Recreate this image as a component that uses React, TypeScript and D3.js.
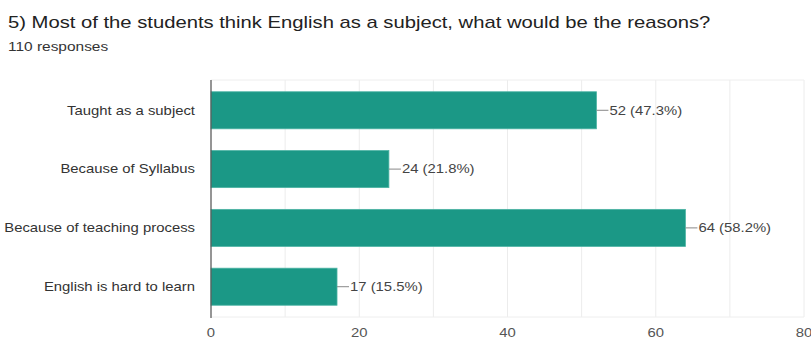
import React from "react";
import * as d3 from "d3";

const categories = [
  "Taught as a subject",
  "Because of Syllabus",
  "Because of teaching process",
  "English is hard to learn",
];
const counts = [52, 24, 64, 17];
const percents = ["47.3%", "21.8%", "58.2%", "15.5%"];
const tickValues = [0, 20, 40, 60, 80];
const gridValues = [0, 10, 20, 30, 40, 50, 60, 70, 80];
const title = "5) Most of the students think English as a subject, what would be the reasons?";
const subtitle = "110 responses";

const W = 811;
const H = 340;
const left = 211;
const right = 804;
const top = 80;
const bottom = 317;
const SX = 1.19;

function T(props: { x: number; y: number; anchor?: string; size: number; fill: string; children: React.ReactNode; dy?: string }) {
  return (
    <text
      transform={`translate(${props.x},${props.y}) scale(${SX},1)`}
      dy={props.dy}
      textAnchor={props.anchor || "start"}
      fontFamily="Arial, 'Liberation Sans', sans-serif"
      fontSize={props.size}
      fill={props.fill}
    >
      {props.children}
    </text>
  );
}

export default function App() {
  const x = d3.scaleLinear().domain([0, 80]).range([left, right]);
  const y = d3.scaleBand<string>().domain(categories).range([top, bottom]).paddingInner(0.37).paddingOuter(0.2);
  return (
    <svg width={W} height={H} style={{ position: "absolute", left: 0, top: 0, background: "#fff" }}>
      <rect x={0} y={0} width={W} height={H} fill="#fff" />
      <T x={8} y={28} size={17} fill="#222">{title}</T>
      <T x={8} y={51} size={13} fill="#333">{subtitle}</T>
      {gridValues.map((v) => (
        <line key={"g" + v} x1={x(v)} x2={x(v)} y1={top} y2={bottom} stroke="#ececec" strokeWidth={1} />
      ))}
      <line x1={left} x2={right} y1={top} y2={top} stroke="#eeeeee" />
      <line x1={left} x2={right} y1={bottom} y2={bottom} stroke="#eeeeee" />
      {categories.map((c, i) => {
        const y0 = y(c)!;
        const h = y.bandwidth();
        const xe = x(counts[i]);
        const cy = y0 + h / 2;
        return (
          <g key={c}>
            <rect x={x(0)} y={y0} width={xe - x(0)} height={h} fill="#1b9886" stroke="#4cb3a3" strokeWidth={0.8} />
            <line x1={xe} x2={xe + 12} y1={cy} y2={cy} stroke="#888" strokeWidth={1} />
            <T x={xe + 13} y={cy} dy="0.35em" size={12.5} fill="#444">
              {`${counts[i]} (${percents[i]})`}
            </T>
            <T x={195} y={cy} dy="0.35em" anchor="end" size={12.5} fill="#333">
              {c}
            </T>
          </g>
        );
      })}
      <line x1={left} x2={left} y1={top} y2={bottom + 1} stroke="#555" strokeWidth={1.2} />
      {tickValues.map((v) => (
        <T key={"t" + v} x={x(v)} y={337} anchor="middle" size={12.5} fill="#555">
          {v}
        </T>
      ))}
    </svg>
  );
}
